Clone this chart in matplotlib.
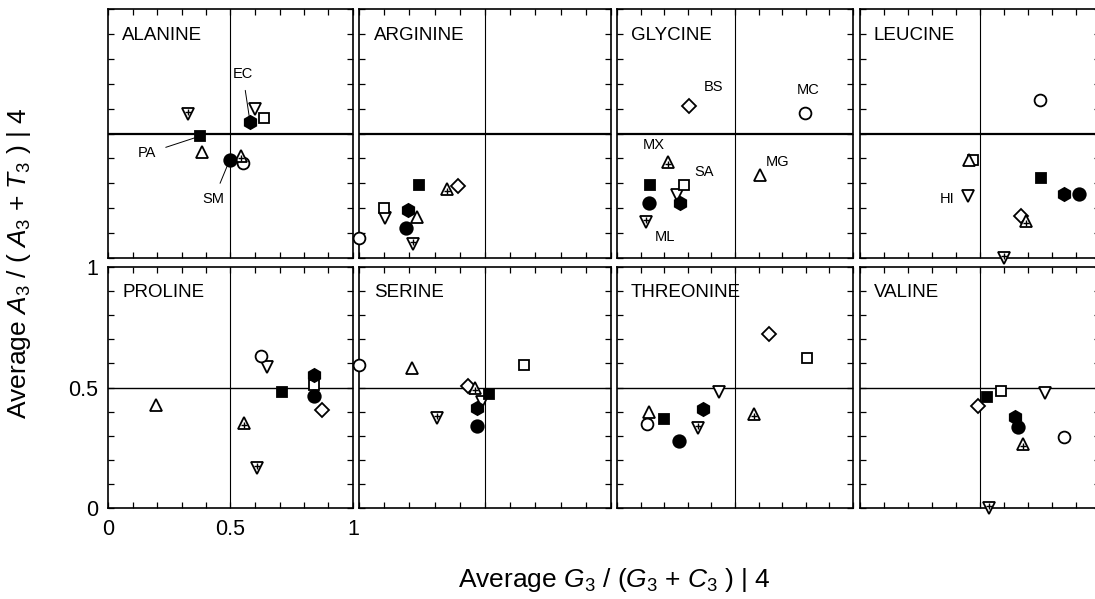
import numpy as np
import matplotlib
matplotlib.use('Agg')
import matplotlib.pyplot as plt

plt.rcParams['font.family'] = ['Liberation Sans', 'DejaVu Sans']
plt.rcParams['mathtext.fontset'] = 'custom'
plt.rcParams['mathtext.rm'] = 'Liberation Sans'
plt.rcParams['mathtext.it'] = 'Liberation Sans:italic'

amino_acids = ['ALANINE', 'ARGININE', 'GLYCINE', 'LEUCINE',
               'PROLINE', 'SERINE', 'THREONINE', 'VALINE']
nan = np.nan

# average G3/(G3+C3) (x) and A3/(A3+T3) (y), one value per amino acid
ec_x = [0.58, 0.193, 0.265, 0.852, 0.842, 0.47, 0.363, 0.646]
ec_y = [0.545, 0.194, 0.221, 0.257, 0.553, 0.414, 0.41, 0.379]
sm_x = [0.496, 0.188, 0.134, 0.911, 0.84, 0.467, 0.262, 0.657]
sm_y = [0.392, 0.12, 0.221, 0.257, 0.463, 0.342, 0.279, 0.338]
pa_x = [0.374, 0.237, 0.141, 0.756, 0.71, 0.516, 0.198, 0.529]
pa_y = [0.489, 0.295, 0.294, 0.321, 0.48, 0.472, 0.37, 0.462]
sa_x = [0.638, 0.099, 0.282, 0.47, 0.84, 0.655, 0.805, 0.588]
sa_y = [0.562, 0.2, 0.294, 0.395, 0.512, 0.593, 0.621, 0.487]
mc_x = [0.553, 0.0, 0.796, 0.749, 0.623, 0.0, 0.127, 0.851]
mc_y = [0.381, 0.08, 0.582, 0.636, 0.629, 0.593, 0.349, 0.294]
bs_x = [nan, 0.391, 0.307, 0.672, 0.873, 0.433, 0.644, 0.49]
bs_y = [nan, 0.29, 0.612, 0.17, 0.405, 0.506, 0.724, 0.425]
mg_x = [0.383, 0.23, 0.606, 0.455, 0.195, 0.209, 0.135, nan]
mg_y = [0.424, 0.165, 0.335, 0.395, 0.429, 0.582, 0.4, nan]
mx_x = [0.542, 0.349, 0.218, 0.69, 0.555, 0.46, 0.581, 0.68]
mx_y = [0.411, 0.277, 0.384, 0.147, 0.353, 0.499, 0.39, 0.265]
hi_x = [0.6, 0.103, 0.256, 0.45, 0.648, 0.487, 0.432, 0.772]
hi_y = [0.6, 0.16, 0.254, 0.248, 0.585, 0.441, 0.483, 0.476]
ml_x = [0.325, 0.214, 0.124, 0.601, 0.61, 0.308, 0.344, 0.536]
ml_y = [0.578, 0.056, 0.143, 0.0, 0.166, 0.372, 0.331, 0.0]

# organism -> (x, y, marker, filled, marker size, cross inside)
organisms = {
    'HI': (hi_x, hi_y, 'v', False, 8.5, False),
    'ML': (ml_x, ml_y, 'v', False, 8.5, True),
    'MC': (mc_x, mc_y, 'o', False, 8.5, False),
    'SA': (sa_x, sa_y, 's', False, 7.5, False),
    'BS': (bs_x, bs_y, 'D', False, 7, False),
    'MG': (mg_x, mg_y, '^', False, 8.5, False),
    'MX': (mx_x, mx_y, '^', False, 8.5, True),
    'PA': (pa_x, pa_y, 's', True, 7.5, False),
    'SM': (sm_x, sm_y, 'o', True, 9, False),
    'EC': (ec_x, ec_y, 'h', True, 9.5, False),
}

# point labels: amino acid index, organism, text position, leader line
callouts = [
    (0, 'EC', 0.55, 0.74, True),
    (0, 'PA', 0.16, 0.42, True),
    (0, 'SM', 0.43, 0.235, True),
    (2, 'BS', 0.41, 0.685, False),
    (2, 'MC', 0.81, 0.675, False),
    (2, 'MX', 0.155, 0.455, False),
    (2, 'SA', 0.37, 0.345, False),
    (2, 'MG', 0.68, 0.385, False),
    (2, 'ML', 0.205, 0.085, False),
    (3, 'HI', 0.365, 0.235, False),
]

W, H = 1095, 599
fig = plt.figure(figsize=(W / 100, H / 100), dpi=100)

col_edges = [(108, 353), (359, 611), (617, 853), (860, 1100)]
row_edges = [(9, 258), (267, 508)]

axes = []
for i, name in enumerate(amino_acids):
    r, c = divmod(i, 4)
    x0, x1 = col_edges[c]
    y0, y1 = row_edges[r]
    ax = fig.add_axes([x0 / W, 1 - y1 / H, (x1 - x0) / W, (y1 - y0) / H])
    ax.set_xlim(0, 1)
    ax.set_ylim(0, 1)
    ticks = np.arange(0, 1.01, 0.1)
    ax.set_xticks(ticks)
    ax.set_yticks(ticks)
    ax.tick_params(direction='in', length=4, width=0.9, top=True, right=True,
                   labelsize=15.5)
    for sp in ax.spines.values():
        sp.set_linewidth(1.2)
    if name == 'PROLINE':
        lab = ['0' if t == 0 else '0.5' if abs(t - 0.5) < 1e-9 else '1' if t == 1 else ''
               for t in ticks]
        ax.set_xticklabels(lab)
        ax.set_yticklabels(lab)
        ax.tick_params(axis='x', pad=8)
        ax.tick_params(axis='y', pad=7)
    else:
        ax.set_xticklabels([])
        ax.set_yticklabels([])

    ax.axhline(0.5, color='black', lw=1.6 if r == 0 else 1.0, zorder=1)
    ax.axvline(0.5, color='black', lw=0.8, zorder=1)
    ax.text(0.058, 0.895, name, transform=ax.transAxes, fontsize=13.5,
            va='center', ha='left')

    for org, (xs, ys, m, filled, ms, cross) in organisms.items():
        if np.isnan(xs[i]):
            continue
        ax.plot(xs[i], ys[i], marker=m, ms=ms, mec='black', mew=1.3,
                mfc='black' if filled else 'white', ls='none',
                clip_on=False, zorder=3)
        if cross:
            dy = -0.008 if m == '^' else 0.008
            ax.plot(xs[i], ys[i] + dy, marker='+', ms=4, mew=1.0,
                    color='black', ls='none', clip_on=False, zorder=4)
    axes.append(ax)

for i, org, tx, ty, leader in callouts:
    x, y = organisms[org][0][i], organisms[org][1][i]
    ax = axes[i]
    if leader:
        ax.annotate(org, xy=(x, y), xytext=(tx, ty), fontsize=10.5,
                    ha='center', va='center', zorder=5,
                    arrowprops=dict(arrowstyle='-', lw=0.7, color='black',
                                    shrinkA=5, shrinkB=3))
    else:
        ax.text(tx, ty, org, fontsize=10.5, ha='center', va='center', zorder=5)

fig.text(614 / W, 1 - 580 / H,
         'Average $G_3$ / ($G_3$ + $C_3$ ) | 4', fontsize=19,
         ha='center', va='center')
fig.text(19 / W, 1 - 263 / H,
         'Average $A_3$ / ( $A_3$ + $T_3$ ) | 4', fontsize=19,
         ha='center', va='center', rotation=90)

fig.savefig('out.png', dpi=100)
